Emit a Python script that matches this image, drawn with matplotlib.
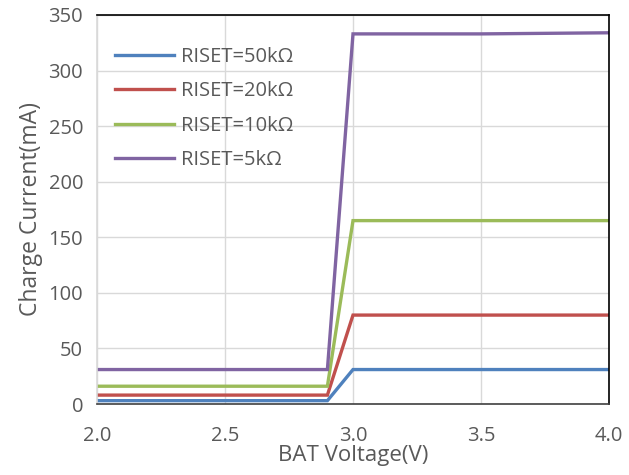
import matplotlib
matplotlib.use('Agg')
import matplotlib.pyplot as plt

plt.rcParams['font.family'] = ['Open Sans', 'DejaVu Sans']

# Datos
voltage = [2.0, 2.9, 3.0, 3.5, 4.0]
i_50k = [3, 3, 31, 31, 31]
i_20k = [8, 8, 80, 80, 80]
i_10k = [16, 16, 165, 165, 165]
i_5k = [31, 31, 333, 333, 334]

labels = ['RISET=50kΩ', 'RISET=20kΩ', 'RISET=10kΩ', 'RISET=5kΩ']
colors = ['#4F81BD', '#C0504D', '#9BBB59', '#8064A2']
text_color = '#595959'

fig = plt.figure(figsize=(6.29, 4.75), dpi=100)
ax = fig.add_axes([97 / 629, 71 / 475, 512 / 629, 389 / 475])

for y, lab, c in zip([i_50k, i_20k, i_10k, i_5k], labels, colors):
    ax.plot(voltage, y, color=c, linewidth=2.4, label=lab, solid_joinstyle='miter')

ax.set_xlim(2.0, 4.0)
ax.set_ylim(0, 350)
ax.set_xticks([2.0, 2.5, 3.0, 3.5, 4.0])
ax.set_xticklabels(['2.0', '2.5', '3.0', '3.5', '4.0'])
ax.set_yticks(range(0, 351, 50))

ax.grid(True, color='#D9D9D9', linewidth=1)
ax.set_axisbelow(True)
ax.tick_params(axis='both', length=0, labelsize=14.5, colors=text_color)
ax.tick_params(axis='x', pad=16)
ax.tick_params(axis='y', pad=10)

ax.spines['top'].set_color('black')
ax.spines['right'].set_color('black')
ax.spines['bottom'].set_color('#404040')
ax.spines['left'].set_color('#D9D9D9')
for s in ax.spines.values():
    s.set_linewidth(1.2)

ax.set_xlabel('BAT Voltage(V)', fontsize=16, color=text_color, labelpad=-1)
ax.set_ylabel('Charge Current(mA)', fontsize=16.5, color=text_color, labelpad=4)

leg = ax.legend(loc='upper left', frameon=False, fontsize=14.5, handlelength=2.9,
                handletextpad=0.35, labelspacing=0.72, bbox_to_anchor=(0.0, 0.965))
for t in leg.get_texts():
    t.set_color(text_color)

fig.savefig('out.png', dpi=100)
